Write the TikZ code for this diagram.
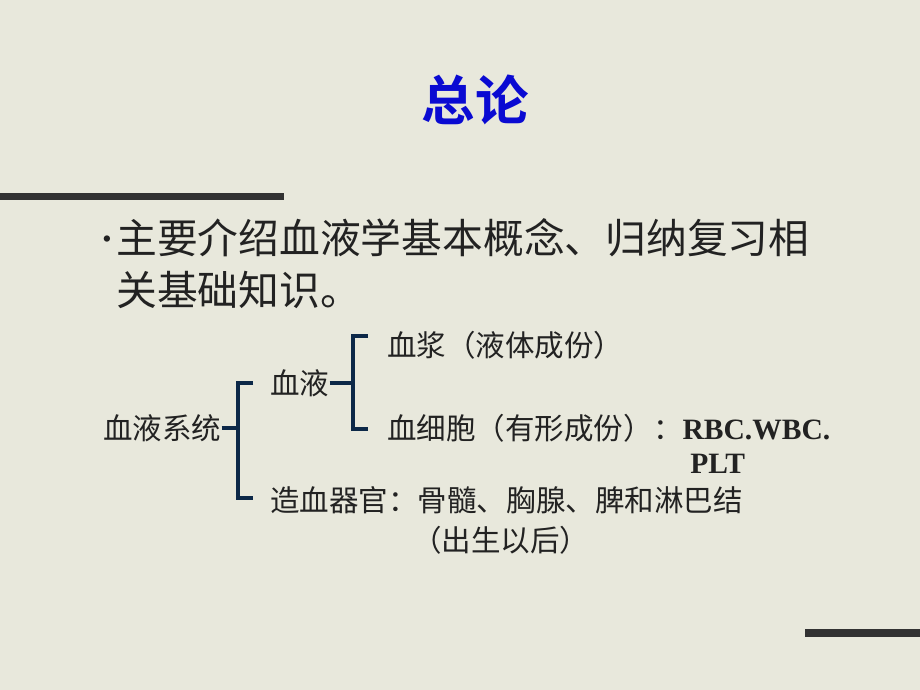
\documentclass[tikz,border=0pt]{standalone}
\usepackage{fontspec}
\newfontfamily\cjk{Noto Sans CJK SC}
\newfontfamily\cjkbold{Noto Sans CJK SC Bold}
\newfontfamily\latinbold{Liberation Serif}
\usetikzlibrary{positioning}
\definecolor{paper}{RGB}{232,232,220}
\definecolor{ink}{RGB}{34,34,34}
\definecolor{navy}{RGB}{12,40,72}
\definecolor{titleblue}{RGB}{10,10,210}
\definecolor{barcol}{RGB}{50,50,50}
\tikzset{
  txt/.style={anchor=west,inner sep=0pt,text=ink,font=\cjk\fontsize{21}{24}\selectfont},
  bullettxt/.style={anchor=west,inner sep=0pt,text=ink,font=\cjk\fontsize{29}{34}\selectfont},
  brace/.style={navy,line width=2.2pt},
  bar/.style={fill=barcol,draw=none}
}

\begin{document}
\begin{tikzpicture}[x=0.025cm,y=-0.025cm]
\fill[paper] (0,0) rectangle (920,690);
\useasboundingbox (0,0) rectangle (920,690);

% title and the two bars
\node (title) at (475,100) [inner sep=0pt,text=titleblue,font=\cjkbold\fontsize{38}{42}\selectfont] {总论};
\fill[bar] (0,193) rectangle (284,200);
\fill[bar] (805,629) rectangle (920,637);

% bullet
\node (dot) at (107,241) [inner sep=0pt,text=ink,font=\fontsize{20}{20}\selectfont] {\textbullet};
\node (point) at (116,238) [bullettxt] {主要介绍血液学基本概念、归纳复习相};
\node (point2) at (116,290) [bullettxt] {关基础知识。};

% tree
\node (sys) at (103,428) [txt] {血液系统};
\node (blood) at (270,383) [txt] {血液};
\node (plasma) at (387,345) [txt] {血浆（液体成份）};
\node (cells) at (387,428) [txt] {血细胞（有形成份）：{\latinbold\bfseries RBC.WBC.}};
\node (plt) at (690,464) [txt] {\latinbold\bfseries PLT};
\node (organ) at (270,500) [txt] {造血器官：骨髓、胸腺、脾和淋巴结};
\node (after) at (412,540) [txt] {（出生以后）};

\coordinate (b1) at (238,428);
\coordinate (b2) at (353,383);

\draw[brace] (sys.east) -- (b1);
\draw[brace] (253,383) -- (238,383) -- (238,498) -- (253,498);
\draw[brace] (blood.east) -- (b2);
\draw[brace] (368,336) -- (353,336) -- (353,429) -- (368,429);

\end{tikzpicture}
\end{document}
